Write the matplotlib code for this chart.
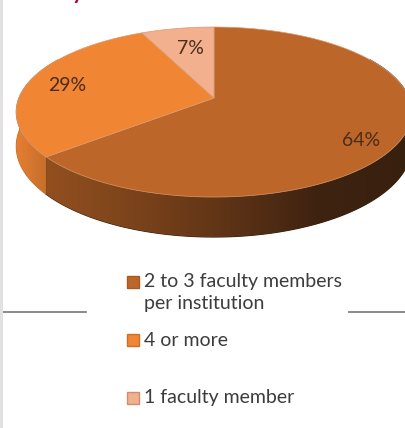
import numpy as np
import matplotlib
matplotlib.use('Agg')
import matplotlib.pyplot as plt
from matplotlib.colors import LinearSegmentedColormap
from matplotlib.patches import Polygon, Rectangle

plt.rcParams['font.family'] = ['Lato', 'DejaVu Sans']

# slices, clockwise from 12 o'clock
categories = ['2 to 3 faculty members\nper institution', '4 or more', '1 faculty member']
values = [64, 29, 7]
top_colors = ['#bd6629', '#f08533', '#f2b08f']
label_pos = [(361, 140), (67, 85), (190, 48)]
legend_y = [282, 340, 398]
legend_edge = ['#a85a24', '#c96f2b', '#c98f72']

W, H = 405, 428
cx, cy = 214, 98      # apex of the pie on screen
R, B = 195, 82.7      # radii
k = 0.165             # perspective
depth = 33.4


def ring(theta, drop=0.0):
    # theta in degrees clockwise from the top
    t = np.radians(theta)
    u, v = np.sin(t), np.cos(t)
    d = 1 + k * v
    return np.column_stack([cx + R * u / d, cy - B * v / d + drop / d])


def side(ax, t0, t1, colors, x0, x1):
    th = np.linspace(t0, t1, 120)
    pts = np.vstack([ring(th), ring(th[::-1], depth)])
    # flat copy underneath so no seam shows at the clip edge
    ax.add_patch(Polygon(pts, closed=True, fc=colors[-1], ec=colors[-1], lw=0.8, zorder=1))
    poly = Polygon(pts, closed=True, fc='none', ec='none')
    ax.add_patch(poly)
    cmap = LinearSegmentedColormap.from_list('s', colors)
    im = ax.imshow(np.linspace(0, 1, 256).reshape(1, -1), cmap=cmap, aspect='auto',
                   extent=(x0, x1, 250, 100), zorder=2)
    im.set_clip_path(poly)


fig = plt.figure(figsize=(W / 100, H / 100), dpi=100)
ax = fig.add_axes([0, 0, 1, 1])

# side walls
angles = np.cumsum([0] + values) * 3.6
side(ax, angles[1], 300, ['#e67f32', '#c46e2b'], 16, 47)
side(ax, 60, angles[1], ['#38200f', '#3f2311', '#5f3416', '#7b431b', '#93501f'][::-1], 44, 405)

# top face
for i in range(len(values)):
    th = np.linspace(angles[i], angles[i + 1], 150)
    pts = np.vstack([[cx, cy], ring(th)])
    ax.add_patch(Polygon(pts, closed=True, fc=top_colors[i], ec='#d99a70', lw=0.5, zorder=3))

# percent labels
for val, pos in zip(values, label_pos):
    ax.text(pos[0], pos[1], '%d%%' % val, fontsize=14, color='#4a2c18',
            ha='center', va='center', zorder=4)

# legend
for name, y, c, e in zip(categories, legend_y, top_colors, legend_edge):
    ax.add_patch(Rectangle((127, y - 6), 12, 12, fc=c, ec=e, lw=1, zorder=4))
    ax.text(144, y - 8.5, name, fontsize=14, color='#3c3c3c', va='top', ha='left',
            linespacing=1.3, zorder=4)

# page leftovers around the chart
ax.add_patch(Rectangle((0, 0), 3, H, fc='#e2e0e0', ec='none', zorder=5))
ax.plot([3, 86], [312, 312], color='#808080', lw=1.3, zorder=4)
ax.plot([349, 405], [312, 312], color='#808080', lw=1.3, zorder=4)
ax.text(78, -1, 'y', fontsize=16, fontweight='bold', color='#a0103c',
        ha='center', va='baseline', zorder=4)

ax.set_xlim(0, W)
ax.set_ylim(H, 0)
ax.axis('off')
fig.savefig('out.png', dpi=100, facecolor='white')
